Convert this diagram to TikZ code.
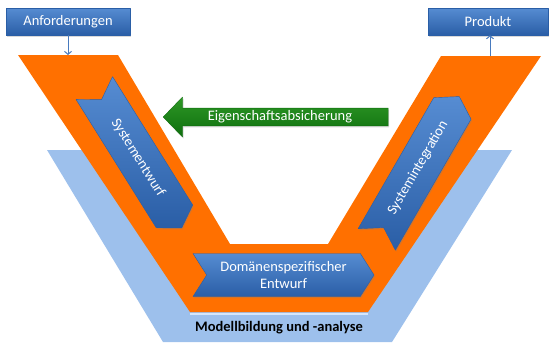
\documentclass[tikz,border=0pt]{standalone}
\usepackage{fontspec}
\setmainfont{Carlito}
\usetikzlibrary{shapes.symbols,shapes.arrows,arrows.meta,shadows}
\definecolor{vorange}{RGB}{255,112,0}
\definecolor{vhell}{RGB}{157,192,236}
\definecolor{vhellkante}{RGB}{214,230,250}
\definecolor{blauoben}{RGB}{86,140,210}
\definecolor{blauunten}{RGB}{42,94,166}
\definecolor{gruenoben}{RGB}{46,152,38}
\definecolor{gruenunten}{RGB}{14,110,14}
\definecolor{pfeilblau}{RGB}{72,122,190}
\begin{document}
\begin{tikzpicture}[x=1pt,y=-1pt,line join=bevel,
  every node/.style={font=\fontsize{14.5}{17}\selectfont},
  schatten/.style={drop shadow={opacity=0.3,shadow xshift=1pt,shadow yshift=-1.5pt}},
  kasten/.style={schatten,draw=blauunten,line width=0.4pt,top color=blauoben,bottom color=blauunten,text=white,minimum height=27pt,inner sep=0pt},
  chevron/.style={schatten,signal,signal to=east,signal from=west,signal pointer angle=115,
    draw=blauunten,line width=0.4pt,top color=blauoben,bottom color=blauunten,text=white,
    minimum height=43pt,inner sep=0pt,align=center},
  pruefpfeil/.style={schatten,single arrow,shape border rotate=180,single arrow tip angle=92,
    draw=gruenunten,line width=0.4pt,top color=gruenoben,bottom color=gruenunten,text=white,
    minimum height=225pt,minimum width=40pt,single arrow head extend=10pt,inner ysep=1.5pt},
  pfeil/.style={draw=pfeilblau,line width=1pt,-{Straight Barb[length=3pt,width=7pt]}}]
  \useasboundingbox (0,0) rectangle (550,343);
  \fill[vhell] (47,150)--(120,150)--(240,290)--(340,290)--(450,150)--(512,150)--(392,342)--(163,342)--cycle ;% Modellbildung
  \fill[vorange] (18,55)--(118,55)--(230,244)--(328,244)--(441,56)--(541,56)--(368,312)--(190,312)--cycle ;% V
  \draw[vhellkante,line width=1.5pt] (190,314)--(368,314) ;
  \node[font=\fontsize{14.5}{17}\selectfont\bfseries] (modell) at (279,328) {Modellbildung und -analyse};
  % Ein- und Ausgang
  \node[kasten,minimum width=124pt] (anf) at (68,21.5) {Anforderungen};
  \node[kasten,minimum width=120pt] (prod) at (488,21.5) {Produkt};
  \coordinate (ein) at (68,55);
  \coordinate (aus) at (490,56);
  \draw[pfeil] (anf.south)--(ein) ;
  \draw[pfeil] (aus)--(aus |- prod.south) ;
  % Phasen
  \foreach \Coord/\Winkel/\Laenge/\Name/\Text in {(138,158)/-58/165/entwurf/Systementwurf,(418,168)/60/165/integ/Systemintegration,(283.5,275)/0/181/domaene/{Domänenspezifischer\\Entwurf}}
    \node[chevron,rotate=\Winkel,minimum width=\Laenge pt] (\Name) at \Coord {\Text} ;
  \node[pruefpfeil] (absich) at (280,117) {Eigenschaftsabsicherung};
\end{tikzpicture}
\end{document}
